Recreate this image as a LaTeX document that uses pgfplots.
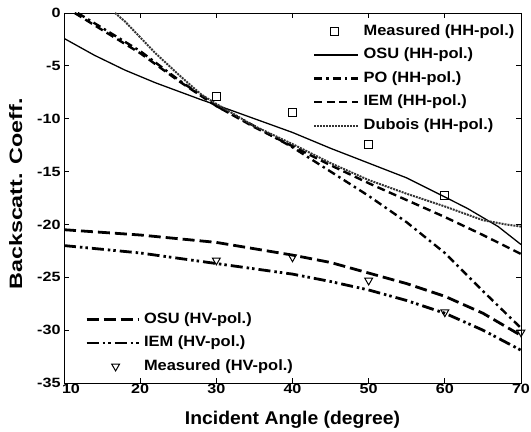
\documentclass[border=0pt]{standalone}
\usepackage{fontspec}
\usepackage{graphicx}
\setmainfont{Liberation Sans}
\newfontfamily\tickfont[FakeStretch=1.2]{Liberation Sans}
\newfontfamily\xlabfont[FakeStretch=1.05]{Liberation Sans}
\newfontfamily\legfont[FakeStretch=1.1]{Liberation Sans}
\usepackage{pgfplots}
\pgfplotsset{compat=1.18}
\pgfplotsset{
  common/.style={
    scale only axis, width=457bp, height=370bp,
    xmin=10, xmax=70, ymin=-35, ymax=0,
    xtick={10,20,...,70}, ytick={-35,-30,...,0},
    xticklabels={\hspace*{14bp}10,20,30,40,50,60,70},
    tick style={black, line width=0.8pt},
    major tick length=5bp,
    /pgf/number format/assume math mode=true,
    ticklabel style={font=\tickfont\fontsize{13.5}{15}\selectfont\bfseries},
    xticklabel style={yshift=2bp},
    legend style={draw=none, fill=none, inner sep=0pt,
      font=\legfont\fontsize{15}{17}\selectfont\bfseries,
      nodes={inner sep=0pt, text height=11bp, text depth=3.5bp},
      row sep=9bp, column sep=4bp},
    legend cell align=left,
  },
  sqleg/.style={legend image code/.code={\path[draw=none] (0bp,0bp) -- (44bp,0bp); \draw[##1] plot coordinates {(20bp,0bp)};}},
  trileg/.style={legend image code/.code={\path[draw=none] (0bp,0bp) -- (52bp,0bp); \draw[##1] plot coordinates {(29bp,0bp)};}},
}
\begin{document}
\begin{tikzpicture}
\begin{axis}[common,
  axis line style={line width=1pt},
  xlabel={\xlabfont Incident Angle (degree)},
  ylabel={\scalebox{1.3}[1]{Backscatt. Coeff.}},
  xlabel style={font=\fontsize{18.5}{20}\selectfont\bfseries, yshift=-10bp},
  ylabel style={font=\fontsize{18}{20}\selectfont\bfseries, yshift=8bp, xshift=4bp},
  legend style={at={(0.545,0.970)}, anchor=north west},
  legend image code/.code={\draw[#1] (0bp,0bp) -- (44bp,0bp);},
]
\addplot[only marks, mark=square, mark size=4bp, line width=1pt, sqleg]
  coordinates {(30,-7.9) (40,-9.4) (50,-12.4) (60,-17.3)};
\addlegendentry{Measured (HH-pol.)}
\addplot[line width=1.3pt]
  coordinates {(10,-2.4) (12,-3.2) (14,-4.0) (16,-4.7) (18,-5.4) (20,-6.0) (22,-6.6) (25,-7.4) (28,-8.2) (30,-8.7) (35,-10.0) (40,-11.3) (45,-12.8) (50,-14.2) (55,-15.6) (60,-17.4) (63,-18.5) (67,-20.2) (70,-21.9)};
\addlegendentry{OSU (HH-pol.)}
\addplot[line width=2.4pt, dash pattern=on 8bp off 4bp on 2.5bp off 4bp]
  coordinates {(11.8,0) (15,-1.4) (20,-3.6) (25,-6.3) (30,-8.8) (35,-10.7) (40,-12.7) (45,-15.0) (50,-17.3) (55,-19.8) (60,-22.7) (65,-26.3) (70,-29.8)};
\addlegendentry{PO (HH-pol.)}
\addplot[line width=2.4pt, dash pattern=on 8bp off 4.5bp]
  coordinates {(11.4,0) (15,-1.6) (20,-3.8) (25,-6.4) (30,-8.8) (35,-10.8) (40,-12.6) (45,-14.4) (50,-16.1) (55,-17.7) (60,-19.3) (65,-21.0) (70,-22.8)};
\addlegendentry{IEM (HH-pol.)}
\addplot[line width=2pt, dash pattern=on 2bp off 1bp, black!80]
  coordinates {(16.7,0) (18,-0.8) (20,-2.3) (22,-3.8) (25,-5.8) (28,-7.7) (30,-8.6) (35,-10.7) (40,-12.4) (45,-14.2) (50,-15.8) (55,-17.1) (60,-18.3) (65,-19.6) (68,-20.0) (70,-20.2)};
\addlegendentry{Dubois (HH-pol.)}
\end{axis}
\begin{axis}[common, hide axis,
  legend style={at={(0.046,0.192)}, anchor=north west},
  legend image code/.code={\draw[#1] (0bp,0bp) -- (52bp,0bp);},
]
\addplot[line width=2.8pt, dash pattern=on 12bp off 5bp]
  coordinates {(10,-20.5) (20,-21.0) (30,-21.7) (40,-22.9) (45,-23.6) (50,-24.6) (55,-25.6) (60,-26.8) (65,-28.4) (70,-30.5)};
\addlegendentry{OSU (HV-pol.)}
\addplot[line width=2.8pt, dash pattern=on 12bp off 4bp on 2.5bp off 3bp on 2.5bp off 4bp]
  coordinates {(10,-22.0) (20,-22.7) (30,-23.7) (40,-24.7) (45,-25.4) (50,-26.2) (55,-27.2) (60,-28.4) (65,-30.0) (70,-31.9)};
\addlegendentry{IEM (HV-pol.)}
\addplot[only marks, mark=triangle, mark options={rotate=180}, mark size=4.5bp, line width=1pt, trileg]
  coordinates {(30,-23.4) (40,-23.1) (50,-25.3) (60,-28.3) (70,-30.2)};
\addlegendentry{Measured (HV-pol.)}
\end{axis}
\pgfresetboundingbox
\useasboundingbox (-64bp,-49bp) rectangle (467bp,383bp);
\end{tikzpicture}
\end{document}
